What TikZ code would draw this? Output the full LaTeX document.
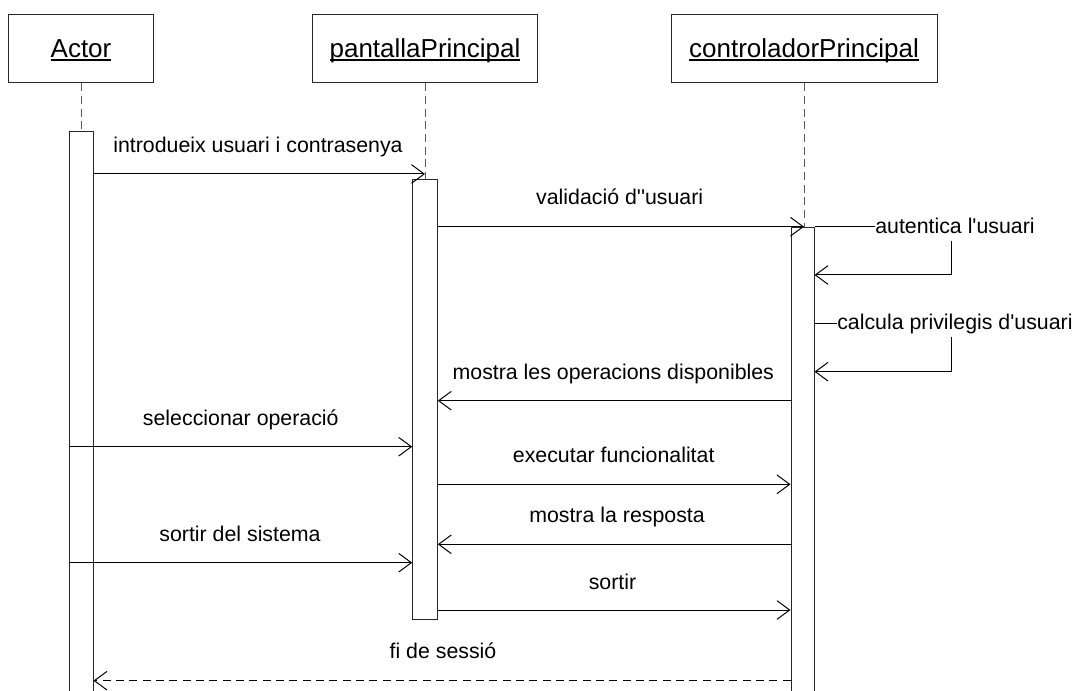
\documentclass[tikz,border=0pt]{standalone}
\usepackage{fontspec}
\setmainfont{Liberation Sans}
\newfontfamily\arialfont{Liberation Sans}
\usetikzlibrary{arrows.meta}
\newcommand\ulbl[1]{\setbox0=\hbox{#1}\rlap{\rule[-2.4pt]{\wd0}{0.8pt}}\box0}
\begin{document}
\begin{tikzpicture}[x=0.75pt,y=-0.75pt,
  obj/.style={draw=black!85, line width=0.75pt, fill=white, minimum height=50.8pt,
    font=\arialfont\fontsize{19.5}{22}\selectfont, text height=15.7pt, text depth=3pt, inner sep=0pt},
  act/.style={draw=black!85, fill=white, line width=0.75pt, minimum width=18pt, inner sep=0pt, anchor=north},
  life/.style={draw=black!65, line width=0.75pt, dash pattern=on 6pt off 3.5pt},
  plain/.style={draw=black, line width=0.75pt},
  msg/.style={plain, -{Straight Barb[length=9.5pt,width=14pt]}},
  ret/.style={msg, dash pattern=on 6pt off 4pt},
  lbl/.style={font=\arialfont\fontsize{16}{19}\selectfont, anchor=base, inner sep=0pt},
  slbl/.style={lbl, anchor=base west},
]
\path[use as bounding box, clip] (0,0) rectangle (1074,691);
\fill[white] (0,0) rectangle (1074,691);

% objects
\node[obj, minimum width=108.5pt] (actor) at (81,48.85) {\ulbl{Actor}};
\node[obj, minimum width=168.4pt] (pantalla) at (425,48.85) {\ulbl{pantallaPrincipal}};
\node[obj, minimum width=199.5pt] (ctrl) at (804,48.85) {\ulbl{controladorPrincipal}};

% activation bars
\node[act, minimum height=450pt] (abar) at (81,130.7) {};
\node[act, minimum width=18.45pt, minimum height=330.45pt] (pbar) at (425,178.7) {};
\node[act, minimum width=17.25pt, minimum height=380pt] (cbar) at (802.5,226.7) {};

% lifelines
\draw[life] (actor.south) -- (abar.north);
\draw[life] (pantalla.south) -- (pbar.north);
\draw[life] (ctrl.south) -- (ctrl.south |- cbar.north);

% message levels
\coordinate (m1) at (0,174);
\coordinate (m2) at (0,226.7);
\coordinate (m3) at (0,400.7);
\coordinate (m4) at (0,446.7);
\coordinate (m5) at (0,484.3);
\coordinate (m6) at (0,544.3);
\coordinate (m7) at (0,562.7);
\coordinate (m8) at (0,610);
\coordinate (m9) at (0,680.7);
\coordinate (s1a) at (951,241);
\coordinate (s1b) at (951,275);
\coordinate (s2y) at (0,323.3);
\coordinate (s2a) at (951,336.7);
\coordinate (s2b) at (951,371.7);

% labels
\node[lbl] (l1) at (258,152.7) {introdueix usuari i contrasenya};
\node[lbl] (l2) at (619.7,205) {validació d''usuari};
\node[slbl] (l3) at (875,233.3) {autentica l'usuari};
\node[slbl] (l4) at (837,330) {calcula privilegis d'usuari};
\node[lbl] (l5) at (613.3,379) {mostra les operacions disponibles};
\node[lbl] (l6) at (240.8,425) {seleccionar operació};
\node[lbl] (l7) at (613.7,462.7) {executar funcionalitat};
\node[lbl] (l8) at (617,522.7) {mostra la resposta};
\node[lbl] (l9) at (240,541.7) {sortir del sistema};
\node[lbl] (l10) at (612.5,589.3) {sortir};
\node[lbl] (l11) at (443,658.3) {f\kern0pt i de sessió};

% messages
\draw[msg] (abar.east |- m1) -- (pbar.north |- m1);
\draw[msg] (pbar.east |- m2) -- (ctrl.south |- m2);
\draw[plain] (cbar.north east) -- (l3.base west |- m2);
\draw[msg] (s1a) -- (s1b) -- (cbar.east |- s1b);
\draw[plain] (cbar.east |- s2y) -- (l4.base west |- s2y);
\draw[msg] (s2a) -- (s2b) -- (cbar.east |- s2b);
\draw[msg] (cbar.west |- m3) -- (pbar.east |- m3);
\draw[msg] (abar.west |- m4) -- (pbar.west |- m4);
\draw[msg] (pbar.east |- m5) -- (cbar.west |- m5);
\draw[msg] (cbar.west |- m6) -- (pbar.east |- m6);
\draw[msg] (abar.west |- m7) -- (pbar.west |- m7);
\draw[msg] (pbar.east |- m8) -- (cbar.west |- m8);
\draw[ret] (cbar.west |- m9) -- (abar.east |- m9);
\end{tikzpicture}
\end{document}
